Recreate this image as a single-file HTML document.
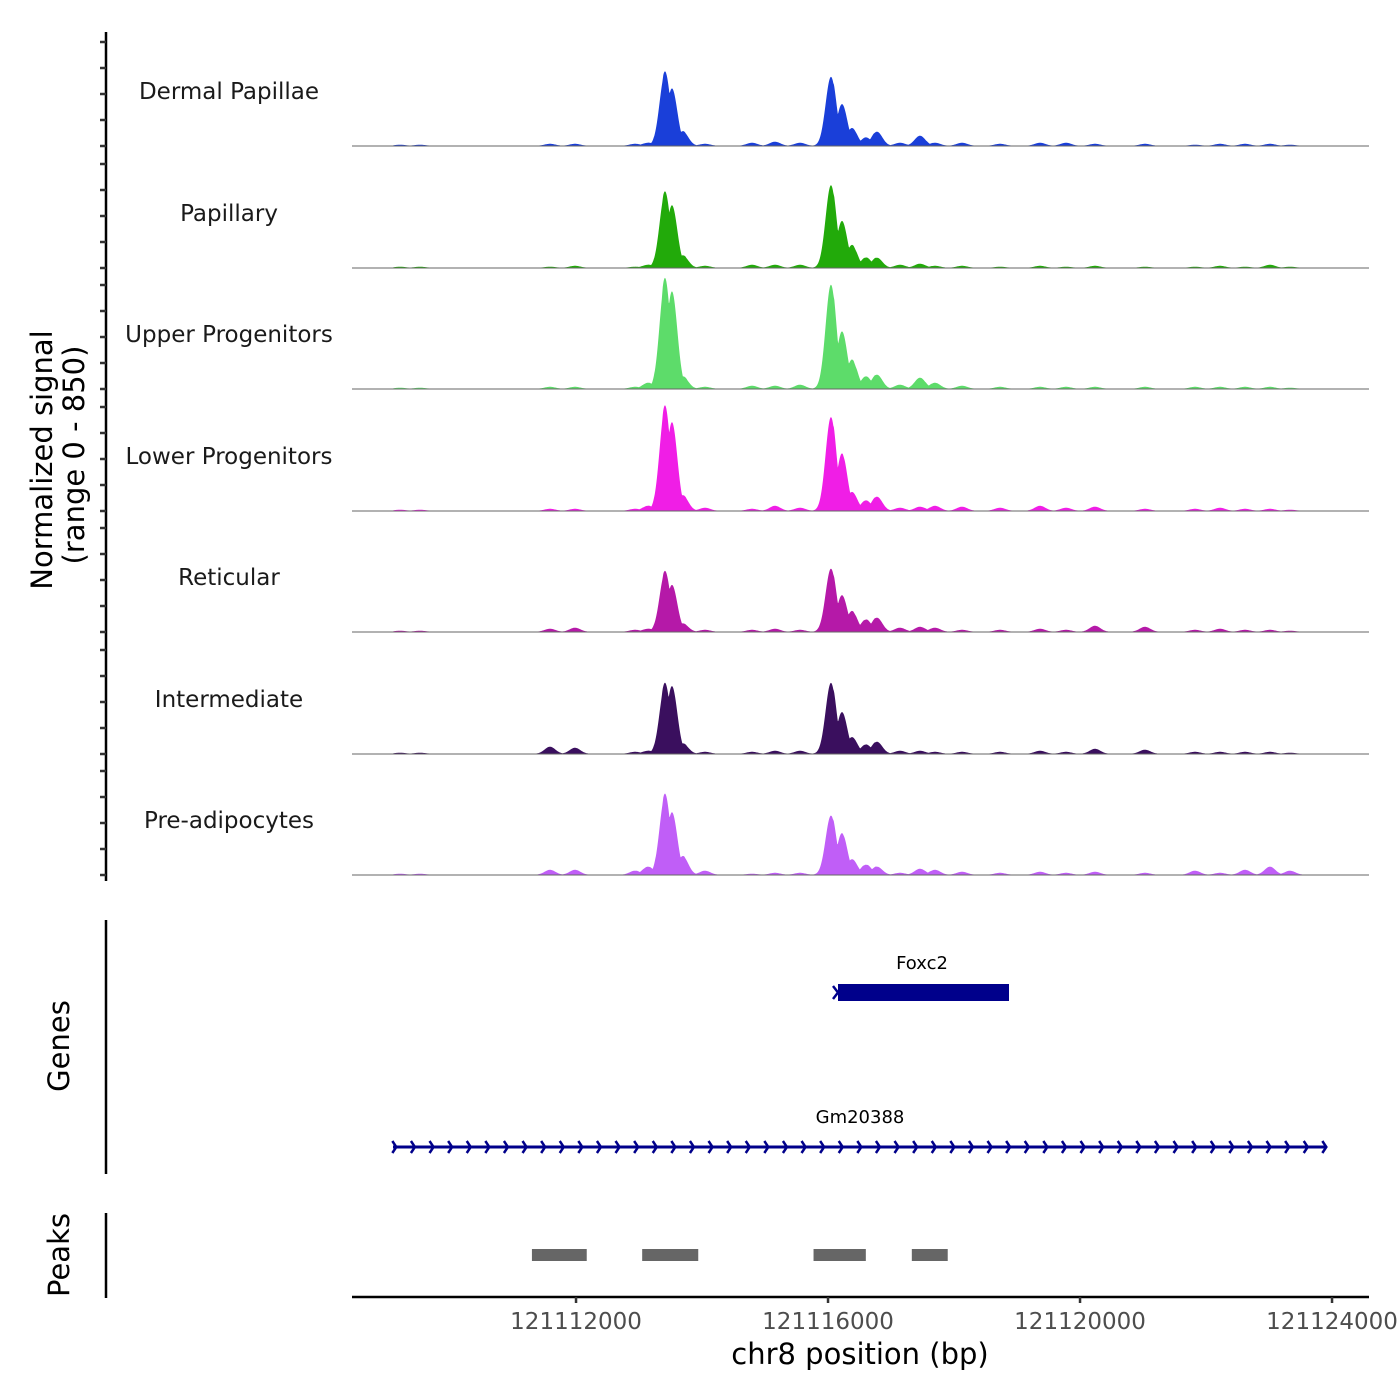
<!DOCTYPE html>
<html><head><meta charset="utf-8"><style>
html,body{margin:0;padding:0;background:#fff;}
svg{display:block;font-family:"DejaVu Sans","Liberation Sans",sans-serif;}
</style></head><body>
<svg id="chart" width="1400" height="1400" viewBox="0 0 1400 1400" xmlns="http://www.w3.org/2000/svg">
<g id="tracks"></g>
<g id="yaxis">
  <line x1="106" y1="32" x2="106" y2="881" stroke="#000" stroke-width="2.5"/>
</g>
<text transform="translate(52,460) rotate(-90)" text-anchor="middle" font-size="29">Normalized signal</text>
<text transform="translate(84,455) rotate(-90)" text-anchor="middle" font-size="29">(range 0 - 850)</text>

<g>
  <line x1="106" y1="920" x2="106" y2="1174" stroke="#000" stroke-width="2.5"/>
  <text transform="translate(69,1046) rotate(-90)" text-anchor="middle" font-size="29">Genes</text>
  <text x="922" y="969" text-anchor="middle" font-size="18">Foxc2</text>
  <rect x="838" y="984" width="171" height="17" fill="#00008b"/>
  <path d="M833 986 L838 992.5 L833 999" stroke="#00008b" stroke-width="2.5" fill="none"/>
  <text x="860" y="1123" text-anchor="middle" font-size="18">Gm20388</text>
  <g id="gm">
    <line x1="393" y1="1147" x2="1325" y2="1147" stroke="#00008b" stroke-width="3"/>
  </g>
</g>

<g>
  <line x1="106" y1="1213" x2="106" y2="1298" stroke="#000" stroke-width="2.5"/>
  <text transform="translate(69,1255) rotate(-90)" text-anchor="middle" font-size="29">Peaks</text>
  <g id="peakbars"></g>
</g>

<g id="xaxis">
  <line x1="352" y1="1297" x2="1369" y2="1297" stroke="#000" stroke-width="2.5"/>
</g>
<text x="860" y="1364" text-anchor="middle" font-size="29">chr8 position (bp)</text>
</svg>
<script>
const NS='http://www.w3.org/2000/svg';
// ---- data ----
const trackNames=['Dermal Papillae','Papillary','Upper Progenitors','Lower Progenitors','Reticular','Intermediate','Pre-adipocytes'];
const trackColors=['#1a3fd9','#22aa0a','#5ddc6a','#f01ee6','#b519a8','#3a0f5e','#c05ef7'];
const peakPos=[121109206,121109523,121111587,121111984,121112936,121113142,121113412,121113523,121113698,121114047,121114793,121115158,121115555,121116047,121116222,121116381,121116603,121116777,121117142,121117460,121117698,121118127,121118730,121119365,121119777,121120238,121121031,121121825,121122222,121122619,121123015,121123333];
const sigDermal=[8,8,15,15,15,23,550,424,108,15,23,31,23,530,308,131,62,108,23,77,23,23,15,23,23,15,15,8,15,15,15,8];
const sigPapillary=[8,8,8,15,8,23,565,462,92,15,23,23,23,635,346,169,77,77,23,31,15,15,8,15,8,15,8,8,15,8,23,8];
const sigUpper=[8,8,15,15,15,46,820,720,92,15,23,23,31,800,424,216,92,108,31,85,46,23,15,15,15,15,15,15,15,15,15,8];
const sigLower=[8,8,15,15,15,38,780,655,115,23,15,38,23,720,424,139,77,108,23,31,38,31,23,38,23,31,15,15,23,15,15,8];
const sigReticular=[8,8,23,31,15,23,450,346,62,15,15,23,15,485,270,154,92,108,31,38,31,15,15,23,15,46,38,15,23,15,15,8];
const sigIntermediate=[8,8,54,46,15,23,525,500,77,15,15,23,23,545,308,123,69,92,23,23,15,15,15,23,15,38,31,15,15,15,15,8];
const sigPreadipo=[8,8,38,38,31,62,600,462,139,31,8,15,15,455,308,115,77,62,15,46,38,23,15,23,15,23,15,31,15,38,62,31];
const trackSignals=[sigDermal,sigPapillary,sigUpper,sigLower,sigReticular,sigIntermediate,sigPreadipo];
const peakStarts=[121111300,121113050,121115770,121117330];
const peakEnds=[121112170,121113940,121116600,121117900];
const geneStart=121109100, geneEnd=121123900;
const xTicks=[121112000,121116000,121120000,121124000];
const yTickVals=[0,200,400,600,800];
// ---- scales ----
const X0=121108444, PXBP=0.063, XL=352, XR=1368;
const xs=bp=>XL+(bp-X0)*PXBP;
const baselines=[146,268,389,511,632,754,875];
const ys=(v,i)=>baselines[i]-v*0.13;
const SIG=85;
const tracks=document.getElementById('tracks');
trackNames.forEach((name,i)=>{
  const g=document.createElementNS(NS,'g');
  
  
  const sig=trackSignals[i];
  const xa=xs(121109100), xb=xs(121123900);
  let d='M'+xa+' '+baselines[i];
  for(let px=xa;px<=xb;px+=0.5){
    const bp=X0+(px-XL)/PXBP;
    let v=0, s=0;
    for(let k=0;k<peakPos.length;k++){
      const z=(bp-peakPos[k])/SIG;
      const c=sig[k]*Math.exp(-0.5*z*z);
      if(c>v)v=c;
      s+=c;
    }
    v=Math.max(v,Math.min(s*0.85,v*1.04))+2;
    d+=' L'+px.toFixed(1)+' '+ys(v,i).toFixed(2);
  }
  d+=' L'+xb+' '+baselines[i]+' Z';
  const p=document.createElementNS(NS,'path');
  p.setAttribute('d',d);p.setAttribute('fill',trackColors[i]);
  
  
  g.appendChild(p);
  const bl=document.createElementNS(NS,'line');
  bl.setAttribute('x1',XL);bl.setAttribute('x2',1369);bl.setAttribute('y1',baselines[i]);bl.setAttribute('y2',baselines[i]);
  bl.setAttribute('stroke','#666');bl.setAttribute('stroke-width','1');
  g.appendChild(bl);
  const t=document.createElementNS(NS,'text');
  t.setAttribute('x',229);t.setAttribute('y',baselines[i]-47);
  t.setAttribute('text-anchor','middle');t.setAttribute('font-size','23');t.setAttribute('fill','#1a1a1a');
  
  
  t.textContent=name;g.appendChild(t);
  tracks.appendChild(g);
  yTickVals.forEach(v=>{
    const tk=document.createElementNS(NS,'line');
    const y=ys(v,i);
    tk.setAttribute('x1',100);tk.setAttribute('x2',106);tk.setAttribute('y1',y);tk.setAttribute('y2',y);
    tk.setAttribute('stroke','#333');tk.setAttribute('stroke-width','2.5');
    
    
    document.getElementById('yaxis').appendChild(tk);
  });
});
// gene chevrons
const gm=document.getElementById('gm');
const gx0=xs(geneStart), gx1=xs(geneEnd);
for(let x=gx0+3;x<=gx1+1;x+=18.6){
  const c=document.createElementNS(NS,'path');
  c.setAttribute('d',`M${x-4} 1141 L${x} 1147 L${x-4} 1153`);
  c.setAttribute('stroke','#00008b');c.setAttribute('stroke-width','2.5');c.setAttribute('fill','none');
  gm.appendChild(c);
}
// peaks
const pb=document.getElementById('peakbars');
peakStarts.forEach((s,k)=>{
  const r=document.createElementNS(NS,'rect');
  r.setAttribute('x',xs(s));r.setAttribute('width',xs(peakEnds[k])-xs(s));
  r.setAttribute('y',1249);r.setAttribute('height',12);r.setAttribute('fill','#666');
  
  
  pb.appendChild(r);
});
// x ticks
const xa=document.getElementById('xaxis');
xTicks.forEach(v=>{
  const x=xs(v);
  const l=document.createElementNS(NS,'line');
  l.setAttribute('x1',x);l.setAttribute('x2',x);l.setAttribute('y1',1297);l.setAttribute('y2',1303);
  l.setAttribute('stroke','#333');l.setAttribute('stroke-width','2.5');
  
  
  xa.appendChild(l);
  const t=document.createElementNS(NS,'text');
  t.setAttribute('x',x);t.setAttribute('y',1329);t.setAttribute('text-anchor','middle');
  t.setAttribute('font-size','23');t.setAttribute('fill','#4d4d4d');
  
  
  t.textContent=v;xa.appendChild(t);
});
</script>
</body></html>
